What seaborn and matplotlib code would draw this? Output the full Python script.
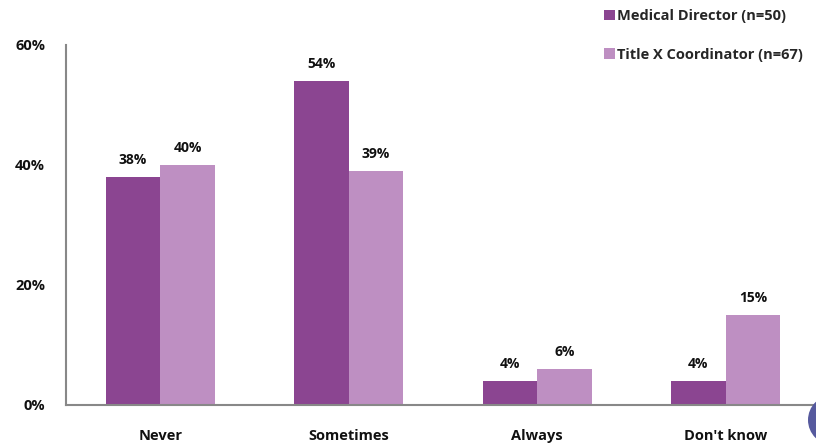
import matplotlib
matplotlib.use("Agg")
import matplotlib.pyplot as plt
from matplotlib.patches import Circle
from matplotlib.ticker import FixedLocator, PercentFormatter
import pandas as pd
import seaborn as sns

# data
categories = ["Never", "Sometimes", "Always", "Don't know"]
series_names = ["Medical Director (n=50)", "Title X Coordinator (n=67)"]
medical_director = [38, 54, 4, 4]
title_x_coordinator = [40, 39, 6, 15]
colors = ["#8B4591", "#BE8FC2"]

df = pd.DataFrame({
    "category": categories * 2,
    "group": [series_names[0]] * len(categories) + [series_names[1]] * len(categories),
    "value": medical_director + title_x_coordinator,
})

sns.set_style("white")
plt.rcParams["font.family"] = ["Open Sans", "DejaVu Sans"]

fig = plt.figure(figsize=(8.16, 4.46), dpi=100)
ax = fig.add_axes([66 / 816, 41 / 446, 754 / 816, 360 / 446])

sns.barplot(data=df, x="category", y="value", hue="group", order=categories,
            hue_order=series_names, palette=colors, width=0.58, gap=0,
            saturation=1, linewidth=0, ax=ax, legend=True)

# value labels above each bar
for container in ax.containers:
    ax.bar_label(container, labels=[f"{v:.0f}%" for v in container.datavalues],
                 padding=7, fontsize=10, fontweight="bold", color="#111111")

ax.set_ylim(0, 60)
ax.set_xlim(-0.5, 3.5)
ax.yaxis.set_major_locator(FixedLocator([0, 20, 40, 60]))
ax.yaxis.set_major_formatter(PercentFormatter(decimals=0))
ax.set_xlabel("")
ax.set_ylabel("")

# tick marks only between categories
ax.xaxis.set_minor_locator(FixedLocator([0.5, 1.5, 2.5]))
ax.tick_params(axis="x", which="major", length=0, pad=17)
ax.tick_params(axis="x", which="minor", length=5, width=1.5, color="#888888", direction="out")
ax.tick_params(axis="y", length=5, width=1.5, color="#888888", direction="out", pad=10)
for lbl in ax.get_xticklabels() + ax.get_yticklabels():
    lbl.set_fontweight("bold")
    lbl.set_fontsize(10.5)
    lbl.set_color("#111111")

sns.despine(ax=ax, top=True, right=True)
for side in ["left", "bottom"]:
    ax.spines[side].set_color("#888888")
    ax.spines[side].set_linewidth(1.5)

handles, labels = ax.get_legend_handles_labels()
ax.get_legend().remove()
fig.legend(handles, labels, loc="upper left", bbox_to_anchor=(604 / 816, 1 - 9 / 446),
           frameon=False, handlelength=0.75, handleheight=0.75, handletextpad=0.15,
           labelspacing=1.7, borderpad=0, borderaxespad=0,
           prop={"weight": "bold", "size": 10.5})

# slide decoration in the bottom-right corner
fig.patches.append(Circle((8.33, 0.26), 0.25, transform=fig.dpi_scale_trans,
                          facecolor="#565A9E", edgecolor="none", figure=fig))

fig.savefig("out.png", dpi=100)
